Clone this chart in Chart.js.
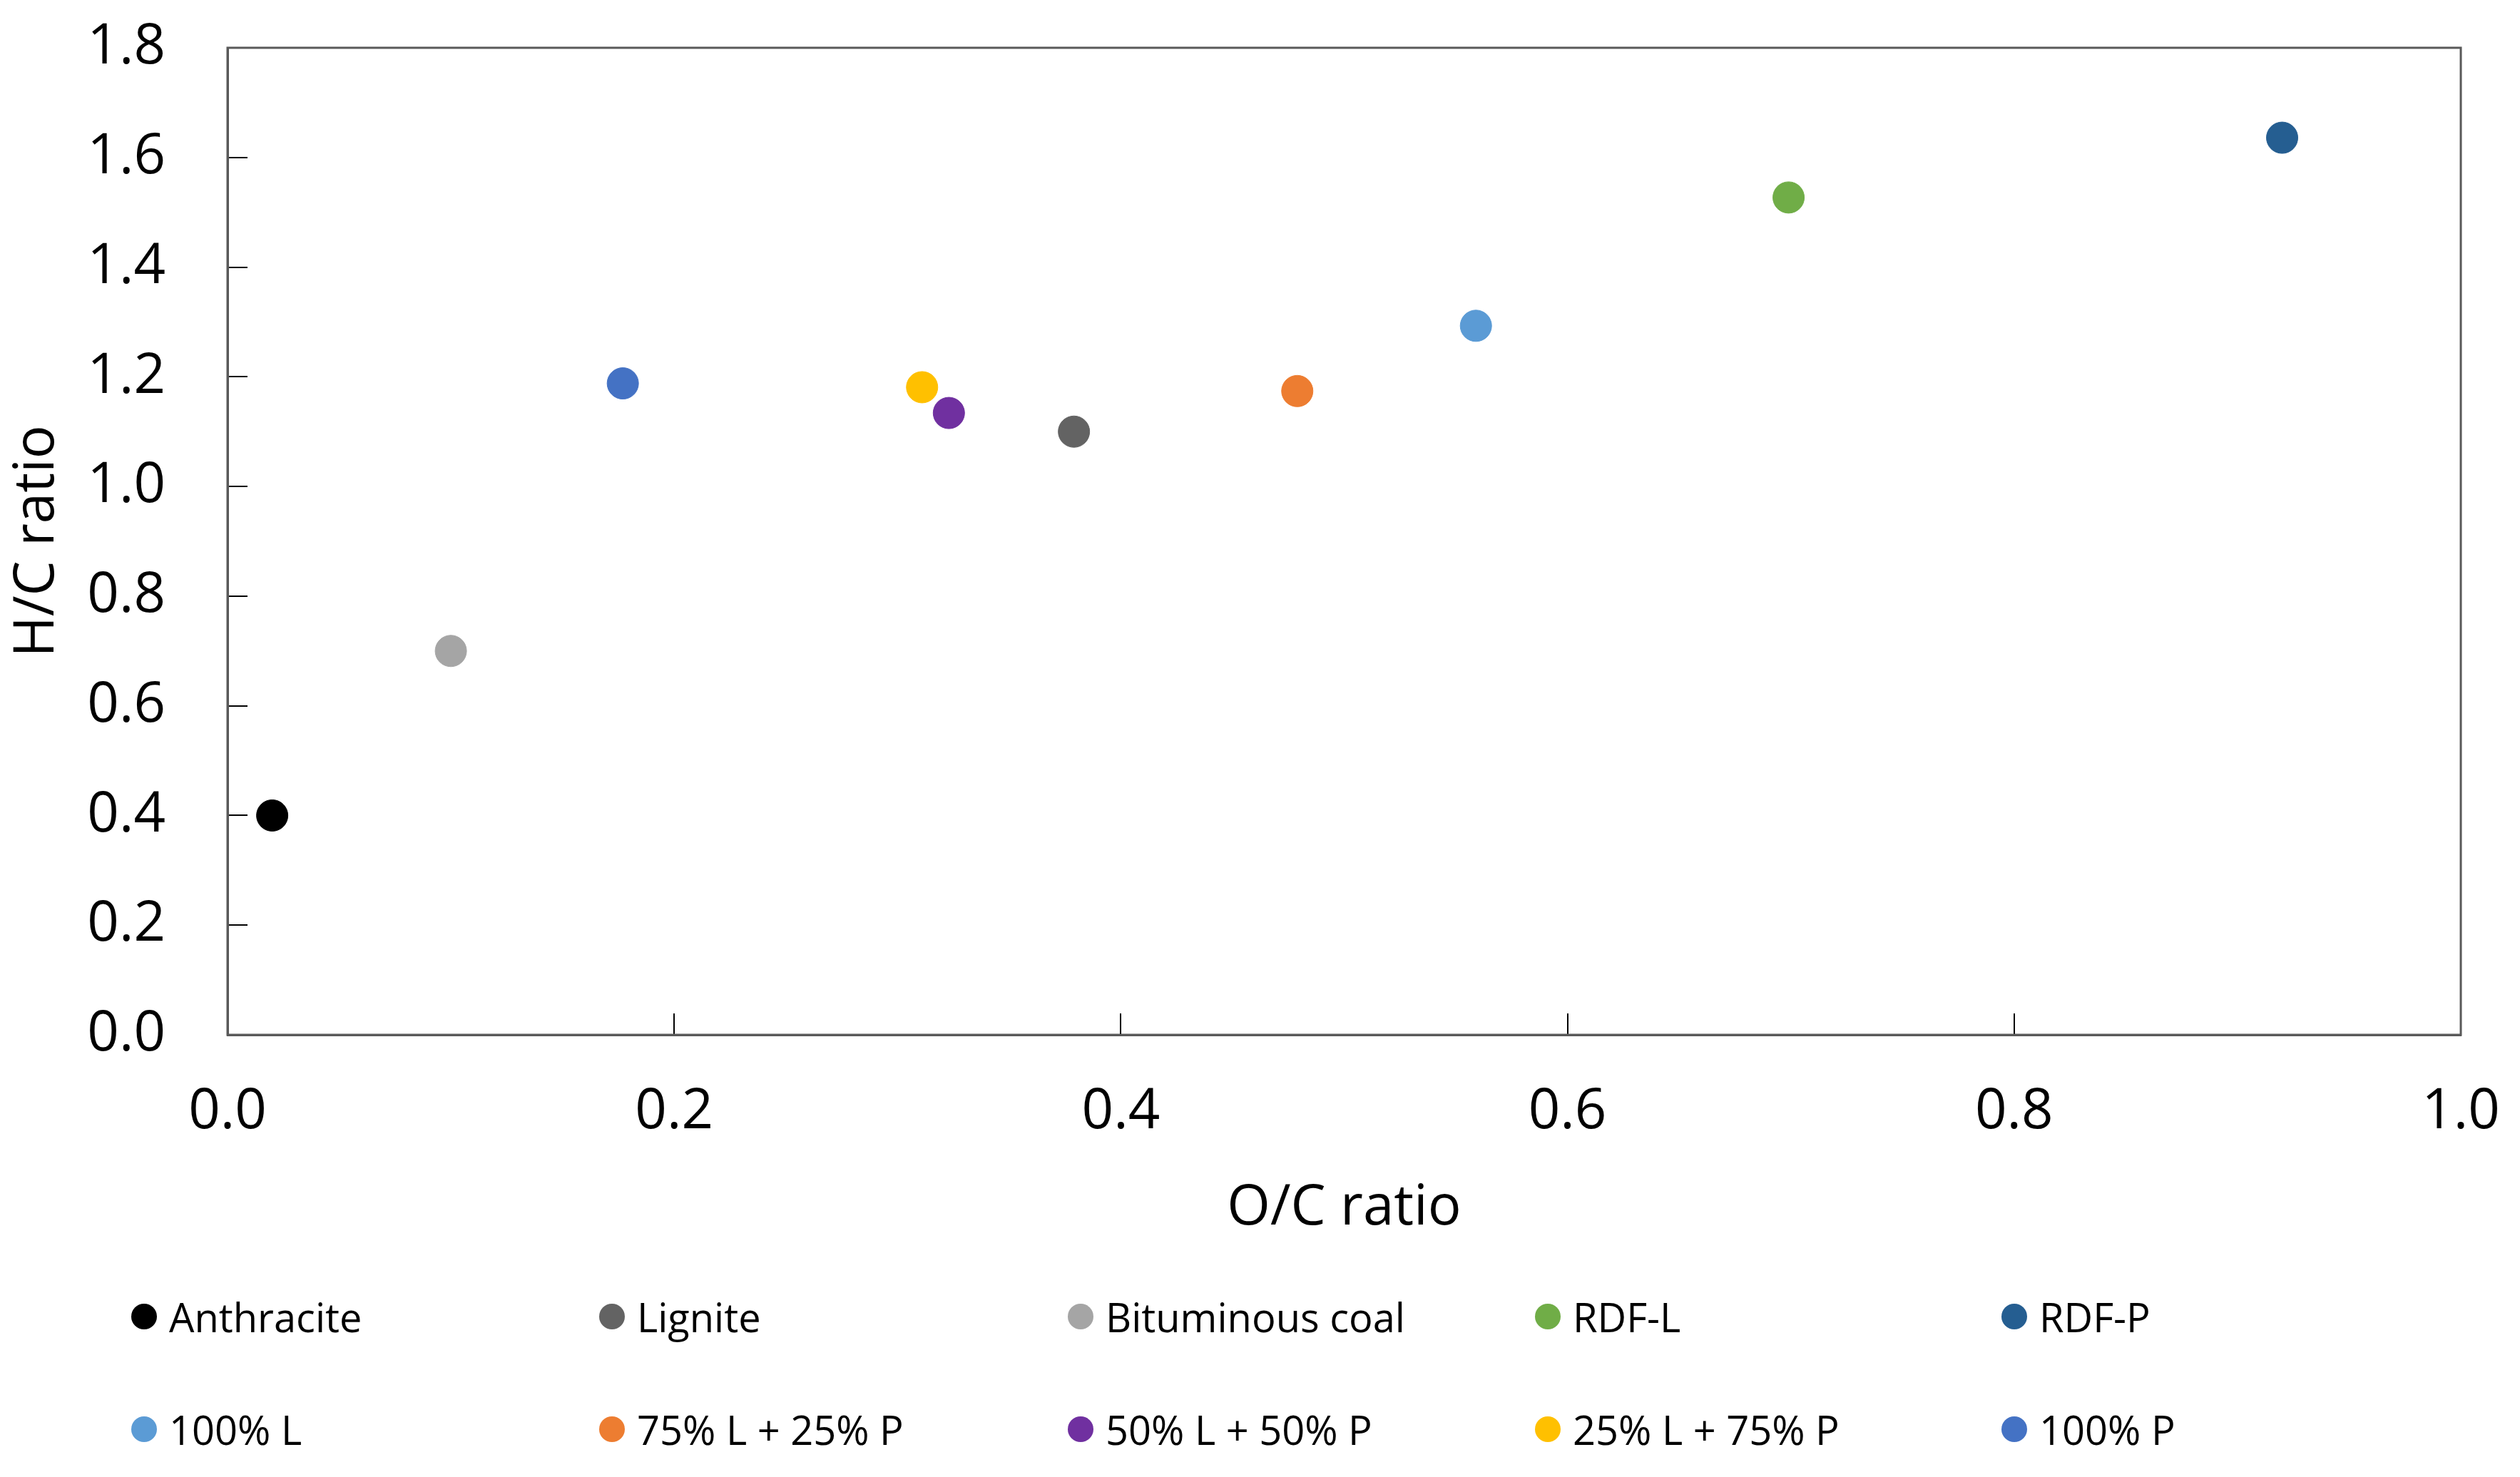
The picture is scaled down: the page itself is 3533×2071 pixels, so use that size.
<!DOCTYPE html>
<html>
<head>
<meta charset="utf-8">
<script src="https://cdn.jsdelivr.net/npm/chart.js@4/dist/chart.umd.min.js"></script>
<style>
  html, body { margin: 0; padding: 0; background: #fff; }
  #wrap { position: relative; width: 3533px; height: 2071px; }
  #legend { position: absolute; left: 0; top: 0; width: 100%; height: 100%; pointer-events: none; }
  .item { position: absolute; display: flex; align-items: center; font-family: "Open Sans", sans-serif; font-size: 56px; color: #000; white-space: nowrap; transform: translateY(-50%); }
  .dot { width: 36px; height: 36px; border-radius: 50%; margin-right: 17px; }
</style>
</head>
<body>
<div id="wrap">
  <canvas id="chart" width="3533" height="2071"></canvas>
  <div id="legend"></div>
</div>
<script>
// one point per material
var names = ['Anthracite', 'Lignite', 'Bituminous coal', 'RDF-L', 'RDF-P',
	'100% L', '75% L + 25% P', '50% L + 50% P', '25% L + 75% P', '100% P'];
var colors = ['#000000', '#636363', '#a5a5a5', '#70ad47', '#255e91',
	'#5b9bd5', '#ed7d31', '#7030a0', '#ffc000', '#4472c4'];
var ocRatio = [0.020, 0.379, 0.100, 0.699, 0.920, 0.559, 0.479, 0.323, 0.311, 0.177];
var hcRatio = [0.400, 1.100, 0.700, 1.527, 1.636, 1.293, 1.174, 1.134, 1.181, 1.188];

var xTicks = [0, 0.2, 0.4, 0.6, 0.8, 1.0];
var yTicks = [0, 0.2, 0.4, 0.6, 0.8, 1.0, 1.2, 1.4, 1.6, 1.8];

var font = '"Open Sans", sans-serif';
var datasets = [];
for (var i = 0; i < names.length; i++) {
	datasets.push({
		label: names[i],
		data: [{ x: ocRatio[i], y: hcRatio[i] }],
		backgroundColor: colors[i],
		borderColor: colors[i],
		pointRadius: 22,
		pointHoverRadius: 22
	});
}

// draws the top and right side of the plot frame
var frame = {
	id: 'frame',
	afterDraw: function (chart) {
		var a = chart.chartArea;
		var ctx = chart.ctx;
		ctx.save();
		ctx.strokeStyle = '#595959';
		ctx.lineWidth = 3;
		ctx.strokeRect(a.left, a.top, a.right - a.left, a.bottom - a.top);
		ctx.restore();
	}
};

var chart = new Chart(document.getElementById('chart'), {
	type: 'scatter',
	data: { datasets: datasets },
	options: {
		responsive: false,
		animation: false,
		devicePixelRatio: 1,
		layout: { padding: { top: 67, right: 83, bottom: 320, left: 0 } },
		plugins: { legend: { display: false }, tooltip: { enabled: false } },
		scales: {
			x: {
				type: 'linear', min: 0, max: 1,
				afterBuildTicks: function (s) { s.ticks = xTicks.map(function (v) { return { value: v }; }); },
				afterFit: function (s) { s.height = 300; s.paddingLeft = 0; s.paddingRight = 0; },
				grid: { drawOnChartArea: false, drawTicks: true, tickLength: -30, color: '#000', lineWidth: 2 },
				border: { color: '#595959', width: 3 },
				ticks: { padding: 92, font: { family: font, size: 78 }, color: '#000',
					callback: function (v) { return v.toFixed(1); } },
				title: { display: true, text: 'O/C ratio', color: '#000', font: { family: font, size: 78 }, padding: { top: 0, bottom: 9 } }
			},
			y: {
				type: 'linear', min: 0, max: 1.8,
				afterBuildTicks: function (s) { s.ticks = yTicks.map(function (v) { return { value: v }; }); },
				afterFit: function (s) { s.width = 319; s.paddingTop = 0; s.paddingBottom = 0; },
				grid: { drawOnChartArea: false, drawTicks: true, tickLength: -28, color: '#000', lineWidth: 2 },
				border: { color: '#595959', width: 3 },
				ticks: { padding: 115, font: { family: font, size: 78 }, color: '#000',
					callback: function (v) { return v.toFixed(1); } },
				title: { display: true, text: 'H/C ratio', color: '#000', font: { family: font, size: 78 }, padding: { top: 6, bottom: 0 } }
			}
		}
	},
	plugins: [frame]
});

// legend in a fixed 5 x 2 grid below the plot
var colX = [202, 858, 1515, 2170, 2824];
var rowY = [1846, 2004];
var legend = document.getElementById('legend');
for (var i = 0; i < names.length; i++) {
	var el = document.createElement('div');
	el.className = 'item';
	el.style.left = (colX[i % 5] - 18) + 'px';
	el.style.top = rowY[Math.floor(i / 5)] + 'px';
	el.innerHTML = '<span class="dot" style="background:' + colors[i] + '"></span>' + names[i];
	legend.appendChild(el);
}
</script>
</body>
</html>
